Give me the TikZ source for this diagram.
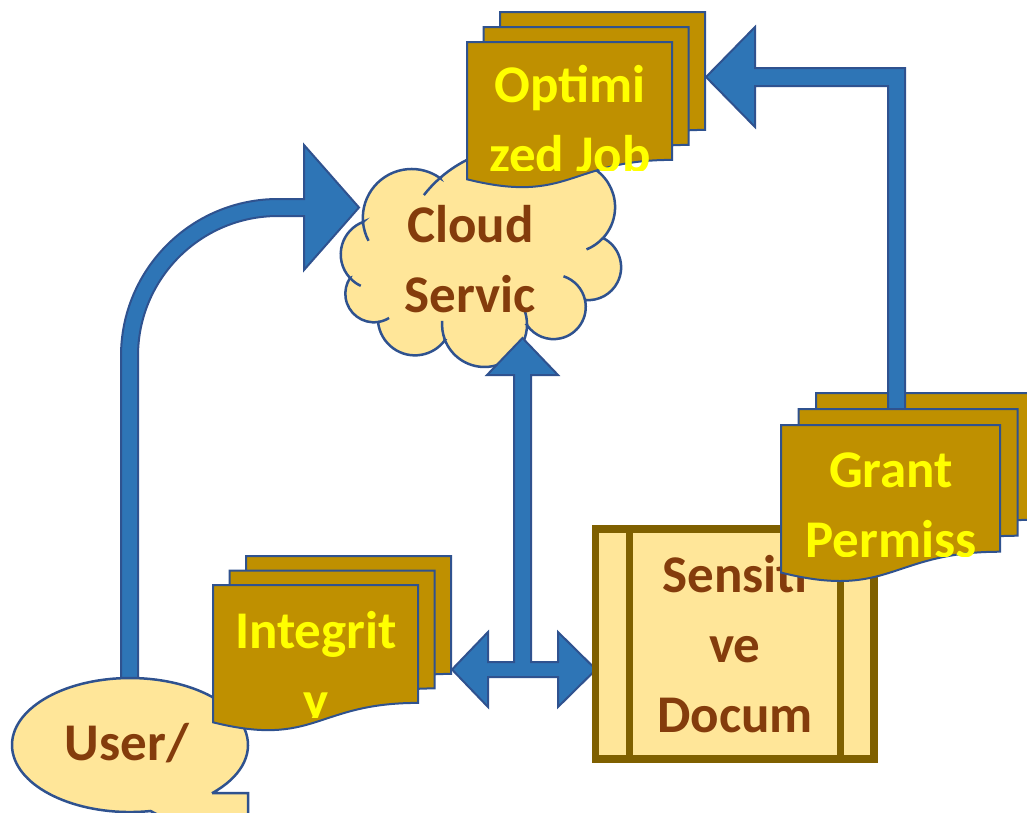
\documentclass[tikz,border=0pt]{standalone}
\usepackage{fontspec}
\setmainfont{Carlito}

\definecolor{docfill}{HTML}{BF9000}
\definecolor{edgeblue}{HTML}{2F528F}
\definecolor{arrowblue}{HTML}{2E75B6}
\definecolor{paleyellow}{HTML}{FFE699}
\definecolor{darkgold}{HTML}{7F6000}
\definecolor{labelbrown}{HTML}{843C0C}
\definecolor{labelyellow}{HTML}{FFFF00}

\tikzset{
  doc/.style={fill=docfill, draw=edgeblue, line width=2pt, line join=miter},
  blockarrow/.style={fill=arrowblue, draw=edgeblue, line width=2pt, line join=miter},
  cloudedge/.style={draw=edgeblue, line width=2.5pt},
  brownlabel/.style={text=labelbrown, font=\fontsize{53}{70}\selectfont\bfseries,
    inner sep=0pt, anchor=base},
  yellowlabel/.style={brownlabel, text=labelyellow},
}

% one flow-chart "document" sheet: top-left corner (#1,#2), width #3, height #4
\newcommand\docsheet[4]{%
  \filldraw[doc] (#1,#2) -- ({#1+#3},#2) -- ({#1+#3},{#2+0.802*#4})
    .. controls ({#1+0.5*#3},{#2+0.802*#4}) and ({#1+0.5*#3},{#2+1.1075*#4})
    .. (#1,{#2+0.934*#4}) -- cycle;}
% a stack of three sheets: front corner (#1,#2), size #3 x #4, offset (#5,#6) per sheet
\newcommand\docstack[6]{%
  \docsheet{#1+2*#5}{#2+2*#6}{#3}{#4}%
  \docsheet{#1+#5}{#2+#6}{#3}{#4}%
  \docsheet{#1}{#2}{#3}{#4}}

\begin{document}
\begin{tikzpicture}[x=1pt, y=-1pt]
\useasboundingbox (0,0) rectangle (1027,812);
\clip (0,0) rectangle (1027,812);

% bent arrow from the user up and over to the cloud
\filldraw[blockarrow] (121,690) -- (121,356)
  arc[start angle=180, end angle=270, radius=157]
  -- (304,199) -- (304,145) -- (359,207.5) -- (304,270) -- (304,216) -- (278,216)
  arc[start angle=270, end angle=180, radius=140]
  -- (138,690) -- cycle;

% user callout
\filldraw[fill=paleyellow, draw=edgeblue, line width=2.5pt, line join=miter]
  (212,793.2) -- (248,793.2) -- (248,860) -- (150.5,811)
  arc[start angle=80, end angle=406, x radius=118, y radius=67] -- cycle;
\node[brownlabel] (user) at (127,760) {User/};

% integrity documents
\docstack{213}{585}{205}{147}{16.5}{-14.5}
\begin{scope}
  \clip (200,560) rectangle (440,717);
  \node[yellowlabel] (integrity) at (316,648)
    {\begin{tabular}[t]{@{}c@{}}Integrit\\y\end{tabular}};
\end{scope}

% cloud service: puffs traced clockwise, then the inner puff strokes
\filldraw[cloudedge, fill=paleyellow]
  (363,222) arc[start angle=175.1, end angle=305.5, radius=48.85]
  -- (440,178) arc[start angle=228.7, end angle=305.5, radius=125.8]
  -- (596,170) arc[start angle=-54.4, end angle=42.6, radius=45.65]
  -- (603,238) arc[start angle=-63.4, end angle=95.8, radius=32.8]
  -- (585,300) arc[start angle=-12.4, end angle=145.8, radius=32.2]
  -- (527,325) arc[start angle=0.7, end angle=158.6, radius=42.5]
  -- (445,340) arc[start angle=35.9, end angle=174.1, radius=37.1]
  -- (378,322) arc[start angle=81.8, end angle=213.3, radius=28.6]
  -- (350,278) arc[start angle=137.1, end angle=249.1, radius=34.7]
  -- cycle;
\draw[cloudedge] (363,222) arc[start angle=175.1, end angle=152, radius=48.85];
\draw[cloudedge] (350,278) arc[start angle=137.1, end angle=115, radius=34.7];
\draw[cloudedge] (378,322) arc[start angle=81.8, end angle=58, radius=28.6];
\draw[cloudedge] (445,340) arc[start angle=158.6, end angle=185, radius=42.5];
\draw[cloudedge] (527,325) arc[start angle=0.7, end angle=-22, radius=42.5];
\draw[cloudedge] (585,300) arc[start angle=-12.4, end angle=-72, radius=32.2];
\draw[cloudedge] (603,238) arc[start angle=42.6, end angle=68, radius=45.65];
\draw[cloudedge] (440,178) arc[start angle=228.7, end angle=218, radius=125.8];
\node[brownlabel] (cloudtext) at (470.5,242)
  {\begin{tabular}[t]{@{}c@{}}Cloud\\Servic\end{tabular}};

% three-way arrow: left, right and up
\filldraw[blockarrow] (452,669.5) -- (488,632) -- (488,662) -- (514,662) -- (514,375)
  -- (487,375) -- (522.5,338) -- (558,375) -- (531,375) -- (531,662) -- (558,662)
  -- (558,632) -- (596,669.5) -- (558,707) -- (558,677) -- (488,677) -- (488,707) -- cycle;

% optimized job documents
\docstack{467}{42}{205}{147}{16.5}{-15}
\begin{scope}
  \clip (455,20) rectangle (700,170);
  \node[yellowlabel] (optjob) at (570,102)
    {\begin{tabular}[t]{@{}c@{}}Optimi\\zed Job\end{tabular}};
\end{scope}

% sensitive document (predefined process box)
\node[draw=darkgold, fill=paleyellow, line width=7.5pt, minimum width=278.5pt,
      minimum height=230pt, inner sep=0pt] (sens) at (734.75,644) {};
\draw[darkgold, line width=7pt] (629.5,529) -- (629.5,759);
\draw[darkgold, line width=7pt] (840.5,529) -- (840.5,759);
\node[brownlabel] (senstext) at (735,592)
  {\begin{tabular}[t]{@{}c@{}}Sensiti\\ve\\Docum\end{tabular}};

% grant permission documents, with the arrow up to the optimized job
\docsheet{816}{393}{219}{158}
\filldraw[blockarrow] (888,410) -- (888,86) -- (755,86) -- (755,127) -- (706,77)
  -- (755,27) -- (755,68) -- (905,68) -- (905,410) -- cycle;
\docsheet{798.5}{409}{219}{158}
\docsheet{781}{425}{219}{158}
\begin{scope}
  \clip (770,400) rectangle (1027,556);
  \node[yellowlabel] (grant) at (891,487)
    {\begin{tabular}[t]{@{}c@{}}Grant\\Permiss\end{tabular}};
\end{scope}
\end{tikzpicture}
\end{document}
